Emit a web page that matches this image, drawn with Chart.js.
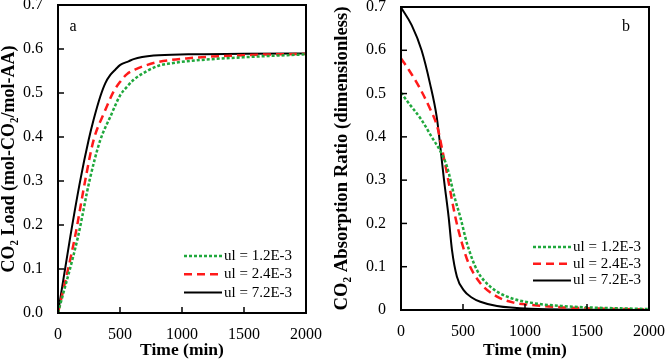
<!DOCTYPE html>
<html>
<head>
<meta charset="utf-8">
<script src="https://cdn.jsdelivr.net/npm/chart.js@4.4.1/dist/chart.umd.min.js"></script>
<style>
	html, body { margin: 0; padding: 0; background: #ffffff; }
	.panel { position: absolute; top: 0; width: 333px; height: 362px; }
	#panel-a { left: 0; }
	#panel-b { left: 333px; }
</style>
</head>
<body>
<div class="panel" id="panel-a"><canvas id="chart-a" width="333" height="362"></canvas></div>
<div class="panel" id="panel-b"><canvas id="chart-b" width="333" height="362"></canvas></div>
<script>
	'use strict';

	var seriesLabels = ['ul = 1.2E-3', 'ul = 2.4E-3', 'ul = 7.2E-3'];
	var seriesColors = ['#1fa83c', '#ff1a1a', '#000000'];

	// panel a: CO2 load vs time
	var loadTimeLow = [0, 161, 255, 341, 422, 502, 556, 610, 718, 811, 900, 1107, 1550, 2000];
	var loadLow = [0, 0.173, 0.302, 0.393, 0.446, 0.495, 0.514, 0.530, 0.550, 0.562, 0.567, 0.574, 0.582, 0.588];
	var loadTimeMid = [0, 137, 220, 287, 375, 448, 500, 556, 620, 700, 800, 1053, 1500, 2000];
	var loadMid = [0, 0.173, 0.302, 0.393, 0.457, 0.503, 0.525, 0.543, 0.553, 0.562, 0.570, 0.579, 0.586, 0.589];
	var loadTimeHigh = [0, 99, 180, 247, 287, 341, 381, 422, 462, 502, 569, 610, 771, 1051, 1500, 2000];
	var loadHigh = [0, 0.173, 0.302, 0.393, 0.439, 0.492, 0.522, 0.541, 0.553, 0.564, 0.572, 0.577, 0.585, 0.588, 0.589, 0.590];

	// panel b: CO2 absorption ratio vs time
	var ratioTimeLow = [0, 65, 166, 247, 319, 371, 438, 478, 532, 613, 720, 855, 1043, 1311, 2000];
	var ratioLow = [0.502, 0.477, 0.439, 0.400, 0.366, 0.331, 0.254, 0.215, 0.154, 0.092, 0.054, 0.031, 0.017, 0.009, 0.002];
	var ratioTimeMid = [0, 65, 145, 226, 293, 333, 381, 438, 492, 545, 640, 774, 908, 1043, 1311, 2000];
	var ratioMid = [0.581, 0.554, 0.516, 0.470, 0.423, 0.370, 0.300, 0.215, 0.154, 0.108, 0.062, 0.031, 0.017, 0.012, 0.006, 0.001];
	var ratioTimeHigh = [0, 86, 166, 234, 288, 320, 347, 384, 411, 451, 505, 570, 640, 774, 1043, 2000];
	var ratioHigh = [0.699, 0.658, 0.600, 0.523, 0.446, 0.370, 0.300, 0.215, 0.139, 0.077, 0.046, 0.029, 0.019, 0.009, 0.003, 0.000];

	var timeTicks = [0, 500, 1000, 1500, 2000];

	var serif = "'Liberation Serif', 'Times New Roman', serif";

	function toPoints(xs, ys) {
		return xs.map(function (x, i) {
			return { x: x, y: ys[i] };
		});
	}

	function makeDatasets(times, values) {
		var dashes = [[3, 2], [8, 5], []];
		var widths = [2.5, 2.5, 2];
		return times.map(function (t, i) {
			return {
				label: seriesLabels[i],
				data: toPoints(t, values[i]),
				borderColor: seriesColors[i],
				borderDash: dashes[i],
				borderWidth: widths[i],
				pointRadius: 0,
				fill: false,
				cubicInterpolationMode: 'monotone',
			};
		});
	}

	// frame, inner ticks, legend and panel letter
	var decorPlugin = {
		id: 'decor',
		afterDatasetsDraw: function (chart, args, opts) {
			var ctx = chart.ctx;
			var area = chart.chartArea;
			var xs = chart.scales.x;
			var ys = chart.scales.y;

			ctx.save();
			ctx.strokeStyle = '#000000';
			ctx.lineWidth = 2;
			ctx.setLineDash([]);
			ctx.strokeRect(area.left, area.top, area.right - area.left, area.bottom - area.top);

			ctx.lineWidth = 1.5;
			xs.ticks.forEach(function (tick) {
				var px = xs.getPixelForValue(tick.value);
				ctx.beginPath();
				ctx.moveTo(px, area.bottom);
				ctx.lineTo(px, area.bottom - 6);
				ctx.stroke();
			});
			ys.ticks.forEach(function (tick) {
				var py = ys.getPixelForValue(tick.value);
				ctx.beginPath();
				ctx.moveTo(area.left, py);
				ctx.lineTo(area.left + 6, py);
				ctx.stroke();
			});

			ctx.font = '15px ' + serif;
			ctx.fillStyle = '#000000';
			ctx.textBaseline = 'middle';
			ctx.textAlign = 'left';
			chart.data.datasets.forEach(function (ds, i) {
				var y = area.bottom - opts.legendBottom + i * opts.legendStep;
				var x0 = area.right - opts.legendRight;
				ctx.strokeStyle = ds.borderColor;
				ctx.lineWidth = ds.borderWidth;
				ctx.setLineDash(ds.borderDash);
				ctx.beginPath();
				ctx.moveTo(x0, y);
				ctx.lineTo(x0 + 38, y);
				ctx.stroke();
				ctx.fillText(ds.label, x0 + 40, y);
			});

			ctx.setLineDash([]);
			ctx.font = '16px ' + serif;
			ctx.textAlign = 'center';
			ctx.fillText(opts.letter, opts.letterX(area), area.top + opts.letterY);
			ctx.restore();
		},
	};

	function buildChart(canvasId, datasets, settings) {
		return new Chart(document.getElementById(canvasId), {
			type: 'line',
			data: { datasets: datasets },
			plugins: [decorPlugin],
			options: {
				responsive: false,
				animation: false,
				layout: {
					padding: { top: settings.top, right: settings.right, left: 0, bottom: 0 },
				},
				plugins: {
					legend: { display: false },
					tooltip: { enabled: false },
					decor: settings.decor,
				},
				scales: {
					x: {
						type: 'linear',
						min: 0,
						max: 2000,
						afterBuildTicks: function (scale) {
							scale.ticks = timeTicks.map(function (v) {
								return { value: v };
							});
						},
						afterFit: function (scale) {
							scale.height = settings.xHeight;
							scale.paddingLeft = 0;
							scale.paddingRight = 0;
						},
						grid: { display: false, drawTicks: false },
						border: { display: false },
						ticks: {
							color: '#000000',
							padding: 12,
							maxRotation: 0,
							font: { family: serif, size: 16 },
							callback: function (v) {
								return String(v);
							},
						},
						title: {
							display: true,
							text: 'Time (min)',
							color: '#000000',
							padding: { top: 0, bottom: 1 },
							font: { family: serif, size: 17.5, weight: 'bold' },
						},
					},
					y: {
						min: 0,
						max: 0.7,
						afterFit: function (scale) {
							scale.width = settings.yWidth;
							scale.paddingTop = 0;
							scale.paddingBottom = 0;
						},
						grid: { display: false, drawTicks: false },
						border: { display: false },
						ticks: {
							stepSize: 0.1,
							color: '#000000',
							padding: settings.yTickPad,
							font: { family: serif, size: 16 },
							callback: settings.yFormat,
						},
						title: {
							display: true,
							text: settings.yTitle,
							color: '#000000',
							padding: { top: 0, bottom: 0 },
							font: { family: serif, size: settings.yTitleSize, weight: 'bold', lineHeight: 1 },
						},
					},
				},
			},
		});
	}

	buildChart(
		'chart-a',
		makeDatasets([loadTimeLow, loadTimeMid, loadTimeHigh], [loadLow, loadMid, loadHigh]),
		{
			top: 5,
			right: 27,
			xHeight: 49,
			yWidth: 58,
			yTickPad: 15,
			yTitle: 'CO\u2082 Load (mol-CO\u2082/mol-AA)',
			yTitleSize: 18,
			yFormat: function (v) {
				return Number(v).toFixed(1);
			},
			decor: {
				legendRight: 122,
				legendBottom: 57,
				legendStep: 18.3,
				letter: 'a',
				letterX: function (area) {
					return area.left + 15;
				},
				letterY: 22,
			},
		}
	);

	buildChart(
		'chart-b',
		makeDatasets([ratioTimeLow, ratioTimeMid, ratioTimeHigh], [ratioLow, ratioMid, ratioHigh]),
		{
			top: 7,
			right: 17,
			xHeight: 52,
			yWidth: 68,
			yTickPad: 15,
			yTitle: 'CO\u2082 Absorption Ratio (dimensionless)',
			yTitleSize: 18.7,
			yFormat: function (v) {
				var r = Math.round(v * 10) / 10;
				return r === 0 ? '0' : r.toFixed(1);
			},
			decor: {
				legendRight: 116,
				legendBottom: 63,
				legendStep: 16.7,
				letter: 'b',
				letterX: function (area) {
					return area.right - 23;
				},
				letterY: 20,
			},
		}
	);
</script>
</body>
</html>
